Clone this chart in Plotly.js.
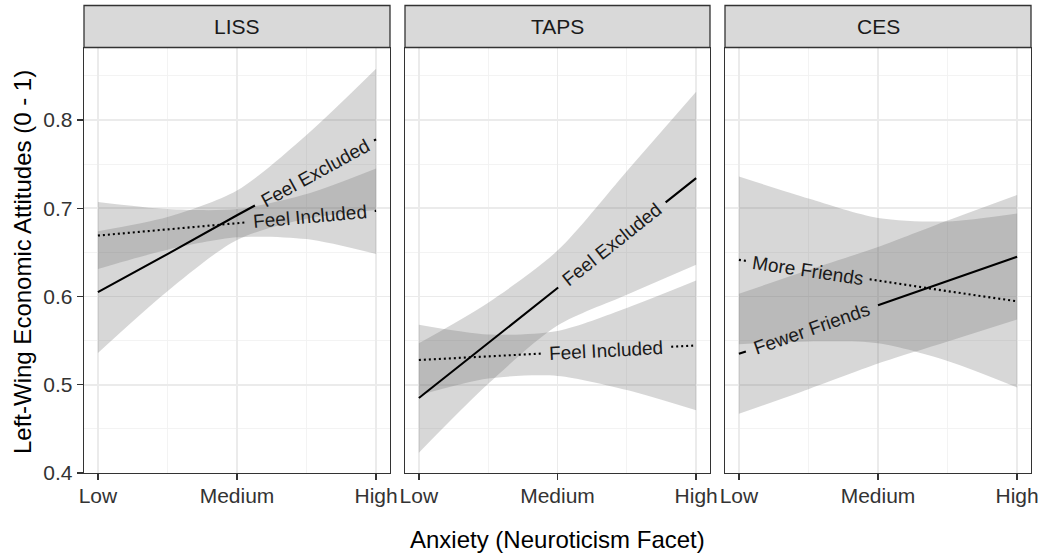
<!DOCTYPE html>
<html>
<head>
<meta charset="utf-8">
<script src="https://cdn.plot.ly/plotly-3.0.1.min.js"></script>
<style>html,body{margin:0;padding:0;background:#fff;}#chart{width:1039px;height:553px;}</style>
</head>
<body>
<div id="chart"></div>
<script>
// ---------------- DATA ----------------
const panels = ['LISS', 'TAPS', 'CES'];
const tickLabels = ['Low', 'Medium', 'High'];
const tickPositions = [1, 2, 3];
const anxiety = [1, 1.5, 2, 2.5, 3];

// LISS
const lissExcludedFit = [0.605, 0.648, 0.692, 0.735, 0.778];
const lissExcludedLow = [0.536, 0.606, 0.664, 0.688, 0.698];
const lissExcludedHigh = [0.674, 0.690, 0.720, 0.783, 0.858];
const lissIncludedFit = [0.669, 0.676, 0.683, 0.690, 0.697];
const lissIncludedLow = [0.631, 0.653, 0.667, 0.665, 0.648];
const lissIncludedHigh = [0.707, 0.699, 0.699, 0.716, 0.745];

// TAPS
const tapsExcludedFit = [0.485, 0.547, 0.610, 0.672, 0.734];
const tapsExcludedLow = [0.423, 0.501, 0.567, 0.602, 0.636];
const tapsExcludedHigh = [0.547, 0.593, 0.652, 0.742, 0.832];
const tapsIncludedFit = [0.528, 0.532, 0.536, 0.540, 0.5445];
const tapsIncludedLow = [0.488, 0.507, 0.510, 0.494, 0.471];
const tapsIncludedHigh = [0.568, 0.557, 0.561, 0.587, 0.618];

// CES
const cesFewerFit = [0.535, 0.5625, 0.590, 0.6175, 0.645];
const cesFewerLow = [0.467, 0.495, 0.524, 0.549, 0.574];
const cesFewerHigh = [0.603, 0.630, 0.656, 0.686, 0.715];
const cesMoreFit = [0.6415, 0.630, 0.618, 0.606, 0.5945];
const cesMoreLow = [0.546, 0.549, 0.547, 0.527, 0.497];
const cesMoreHigh = [0.736, 0.711, 0.689, 0.685, 0.694];

const yTicks = [0.4, 0.5, 0.6, 0.7, 0.8];

// ---------------- LAYOUT / STYLE ----------------
const W = 1039, H = 553;
const FONT = 'Liberation Sans, Arial, Helvetica, sans-serif';
const xDomains = [[84 / W, 390 / W], [405 / W, 710 / W], [725 / W, 1031 / W]];
const yDomain = [1 - 473 / H, 1 - 48 / H];
const xRange = [0.9, 3.1];
const yRange = [0.4, 0.8815];
const bandFill = 'rgba(110,110,110,0.28)';

const series = [
  {panel: 0, text: 'Feel Excluded', fit: lissExcludedFit, lo: lissExcludedLow, hi: lissExcludedHigh, dotted: false, gap: [2.13, 2.985]},
  {panel: 0, text: 'Feel Included', fit: lissIncludedFit, lo: lissIncludedLow, hi: lissIncludedHigh, dotted: true, gap: [2.065, 2.99]},
  {panel: 1, text: 'Feel Excluded', fit: tapsExcludedFit, lo: tapsExcludedLow, hi: tapsExcludedHigh, dotted: false, gap: [2.005, 2.78]},
  {panel: 1, text: 'Feel Included', fit: tapsIncludedFit, lo: tapsIncludedLow, hi: tapsIncludedHigh, dotted: true, gap: [1.885, 2.82]},
  {panel: 2, text: 'Fewer Friends', fit: cesFewerFit, lo: cesFewerLow, hi: cesFewerHigh, dotted: false, gap: [1.05, 2.0]},
  {panel: 2, text: 'More Friends', fit: cesMoreFit, lo: cesMoreLow, hi: cesMoreHigh, dotted: true, gap: [1.055, 1.94]}
];

const pxPerY = ((yDomain[1] - yDomain[0]) * H) / (yRange[1] - yRange[0]);
function pxPerX(p) { return ((xDomains[p][1] - xDomains[p][0]) * W) / (xRange[1] - xRange[0]); }

function dashFor(L, t1, t2, dotted) {
  if (!dotted) return (t1 * L).toFixed(2) + 'px,' + ((t2 - t1) * L).toFixed(2) + 'px,' + (L + 20).toFixed(2) + 'px';
  const on = 2, off = 3, arr = [];
  let pos = 0;
  while (pos + on <= t1 * L) { arr.push(on, off); pos += on + off; }
  const gapEnd = t2 * L;
  if (arr.length) arr[arr.length - 1] += Math.max(0, gapEnd - pos);
  else arr.push(0, gapEnd);
  pos = Math.max(pos, gapEnd);
  while (pos < L + 10) { arr.push(on, off); pos += on + off; }
  return arr.map(v => v.toFixed(2) + 'px').join(',');
}

const axSuffix = ['', '2', '3'];
const traces = [];
// bands first
series.forEach(s => {
  const sx = 'x' + axSuffix[s.panel], sy = 'y' + axSuffix[s.panel];
  traces.push({x: anxiety, y: s.lo, xaxis: sx, yaxis: sy, type: 'scatter', mode: 'lines',
    line: {width: 0, shape: 'spline', smoothing: 0.8}, hoverinfo: 'skip', showlegend: false});
  traces.push({x: anxiety, y: s.hi, xaxis: sx, yaxis: sy, type: 'scatter', mode: 'lines',
    line: {width: 0, shape: 'spline', smoothing: 0.8}, fill: 'tonexty', fillcolor: bandFill,
    hoverinfo: 'skip', showlegend: false});
});

const annotations = [];
// lines and labels
series.forEach(s => {
  const sx = 'x' + axSuffix[s.panel], sy = 'y' + axSuffix[s.panel];
  const n = s.fit.length;
  const x0 = anxiety[0], x1 = anxiety[n - 1];
  const y0 = s.fit[0], y1 = s.fit[n - 1];
  const dxPx = (x1 - x0) * pxPerX(s.panel);
  const dyPx = (y1 - y0) * pxPerY;
  const L = Math.sqrt(dxPx * dxPx + dyPx * dyPx);
  const t1 = (s.gap[0] - x0) / (x1 - x0), t2 = (s.gap[1] - x0) / (x1 - x0);
  traces.push({x: anxiety, y: s.fit, xaxis: sx, yaxis: sy, type: 'scatter', mode: 'lines',
    line: {color: '#000000', width: 2.1, dash: dashFor(L, t1, t2, s.dotted)}, showlegend: false, name: s.text});
  const cx = (s.gap[0] + s.gap[1]) / 2;
  const cy = y0 + (y1 - y0) * (cx - x0) / (x1 - x0);
  const ang = -Math.atan2(dyPx, dxPx) * 180 / Math.PI;
  annotations.push({xref: sx, yref: sy, x: cx, y: cy, text: s.text, showarrow: false,
    textangle: ang, xanchor: 'center', yanchor: 'middle', font: {family: FONT, size: 19, color: '#1a1a1a'}});
});

// strip labels
const shapes = [];
panels.forEach((p, i) => {
  shapes.push({type: 'rect', xref: 'paper', yref: 'paper', x0: xDomains[i][0], x1: xDomains[i][1],
    y0: 1 - 47.5 / H, y1: 1 - 5.5 / H, fillcolor: '#d9d9d9', line: {color: '#333333', width: 1.3}, layer: 'above'});
  annotations.push({xref: 'paper', yref: 'paper', x: (xDomains[i][0] + xDomains[i][1]) / 2, y: 1 - 26.5 / H,
    text: p, showarrow: false, xanchor: 'center', yanchor: 'middle', font: {family: FONT, size: 21, color: '#1a1a1a'}});
});

annotations.push({xref: 'paper', yref: 'paper', x: 22 / W, y: 1 - 262 / H, text: 'Left-Wing Economic Attitudes (0 - 1)',
  textangle: -90, showarrow: false, xanchor: 'center', yanchor: 'middle', font: {family: FONT, size: 24, color: '#000'}});
annotations.push({xref: 'paper', yref: 'paper', x: 557.5 / W, y: 1 - 539 / H, text: 'Anxiety (Neuroticism Facet)',
  showarrow: false, xanchor: 'center', yanchor: 'middle', font: {family: FONT, size: 24, color: '#000'}});

function xAxis(i) {
  return {domain: xDomains[i], anchor: 'y' + axSuffix[i], range: xRange, tickvals: tickPositions, ticktext: tickLabels,
    ticks: 'outside', ticklen: 6, tickwidth: 1.3, tickcolor: '#333333', showline: true, mirror: true,
    linecolor: '#333333', linewidth: 1.3, showgrid: true, gridcolor: '#ebebeb', gridwidth: 1.6, zeroline: false,
    ticklabelstandoff: -3,
    minor: {tickvals: [1.5, 2.5], showgrid: true, gridcolor: '#f2f2f2', gridwidth: 0.9, ticks: ''},
    tickfont: {family: FONT, size: 21, color: '#333333'}, fixedrange: true};
}
function yAxis(i) {
  return {domain: yDomain, anchor: 'x' + axSuffix[i], range: yRange, tickvals: yTicks, tickformat: '.1f',
    ticks: i === 0 ? 'outside' : '', ticklen: 6, tickwidth: 1.3, tickcolor: '#333333', showticklabels: i === 0,
    showline: true, mirror: true, linecolor: '#333333', linewidth: 1.3, showgrid: true, gridcolor: '#ebebeb',
    gridwidth: 1.6, zeroline: false,
    minor: {tickvals: [0.45, 0.55, 0.65, 0.75, 0.85], showgrid: true, gridcolor: '#f2f2f2', gridwidth: 0.9, ticks: ''},
    tickfont: {family: FONT, size: 21, color: '#333333'}, fixedrange: true};
}

const layout = {
  width: W, height: H, margin: {l: 0, r: 0, t: 0, b: 0}, paper_bgcolor: '#ffffff', plot_bgcolor: '#ffffff',
  font: {family: FONT}, showlegend: false,
  xaxis: xAxis(0), xaxis2: xAxis(1), xaxis3: xAxis(2),
  yaxis: yAxis(0), yaxis2: yAxis(1), yaxis3: yAxis(2),
  annotations: annotations, shapes: shapes
};

Plotly.newPlot('chart', traces, layout, {displayModeBar: false, staticPlot: true});
</script>
</body>
</html>
